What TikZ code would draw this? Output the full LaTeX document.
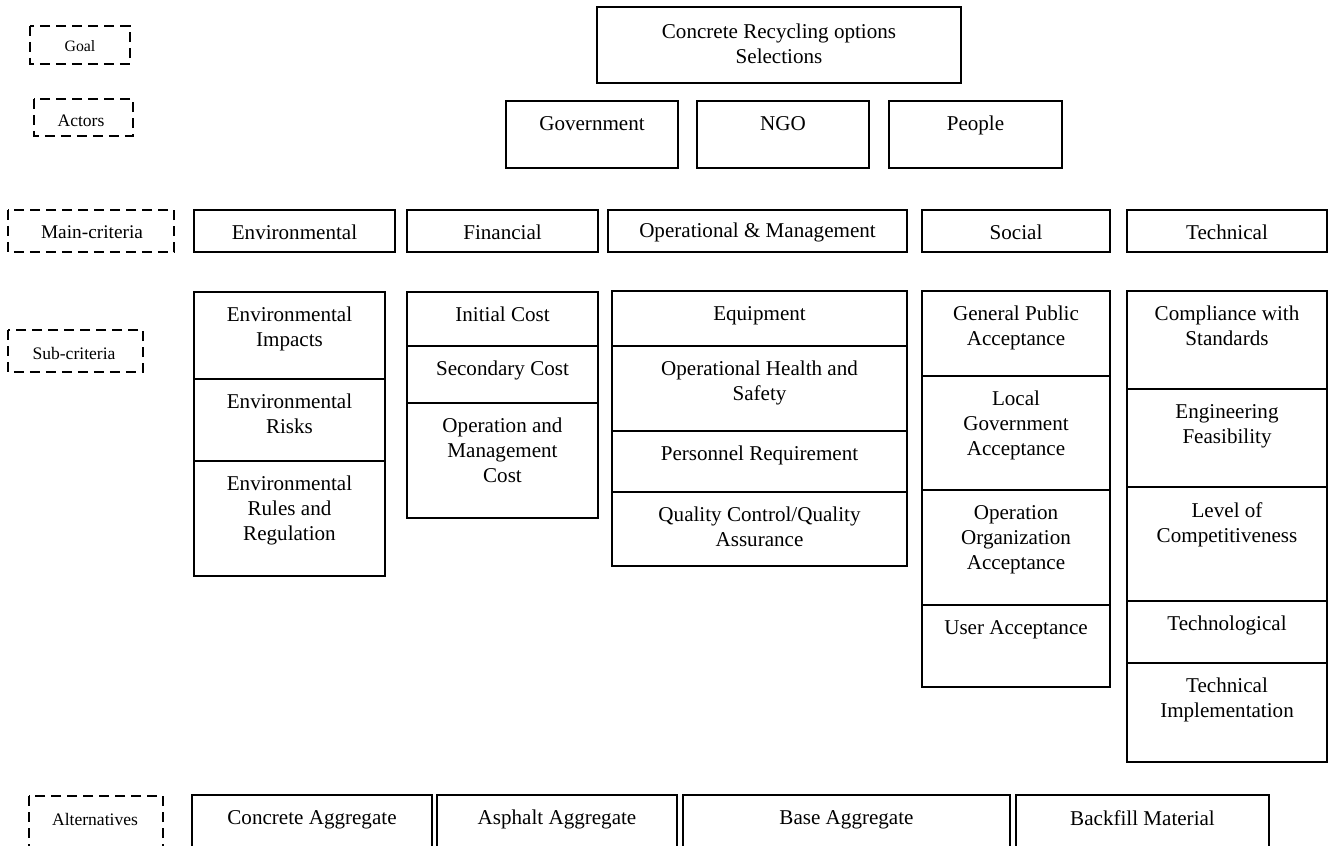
\documentclass[tikz,border=0pt]{standalone}
\usepackage{fontspec}
\setmainfont{Liberation Serif}

\begin{document}
\begin{tikzpicture}[x=0.02cm, y=-0.02cm,
    cell/.style={draw, line width=1pt},
    tag/.style={draw, line width=1.6pt, dash pattern=on 0.2cm off 0.12cm},
    toptext/.style={anchor=north, align=center, inner sep=0pt, yshift=-0.3cm,
      font=\fontsize{12}{14.2}\selectfont},
    midtext/.style={align=center, inner sep=0pt, font=\fontsize{12}{14.2}\selectfont},
    tagtext/.style={inner sep=0pt, font=\fontsize{10}{12}\selectfont}]
  \useasboundingbox (0,0) rectangle (1328,845);

  % Level tags
  \draw[tag] (30,26) rectangle (130,64);
  \node[tagtext, font=\fontsize{9}{11}\selectfont] (t-goal) at (80,46) {Goal};
  \draw[tag] (34,99) rectangle (133,136);
  \node[tagtext] (t-act) at (81,121) {Actors};
  \draw[tag] (8,210) rectangle (174,252);
  \node[tagtext, font=\fontsize{11}{13}\selectfont] (t-main) at (92,232) {Main-criteria};
  \draw[tag] (8,330) rectangle (143,372);
  \node[tagtext] (t-sub) at (74,353) {Sub-criteria};
  \draw[tag] (29,796) rectangle (163,870);
  \node[tagtext] (t-alt) at (95,819) {Alternatives};

  % Goal
  \draw[cell] (597,7) rectangle (961,83);
  \node[midtext] (goal) at (779,44) {Concrete Recycling options\\Selections};

  % Actors
  \foreach \n/\xa/\xb/\t in {gov/506/678/Government, ngo/697/869/NGO, ppl/889/1062/People} {
    \draw[cell] (\xa,101) rectangle (\xb,168);
    \node[toptext] (\n) at ({(\xa+\xb)/2},101) {\t};
  }

  % Main criteria
  \foreach \n/\xa/\xb/\t in {env/194/395/Environmental, fin/407/598/Financial,
      ops/608/907/{Operational \& Management}, soc/922/1110/Social, tec/1127/1327/Technical} {
    \draw[cell] (\xa,210) rectangle (\xb,252);
    \node[midtext] (\n) at ({(\xa+\xb)/2},232) {\t};
  }

  % Sub-criteria
  \foreach \n/\xa/\xb/\ya/\yb/\t in {
      env1/194/385/292/379/{Environmental\\Impacts},
      env2/194/385/379/461/{Environmental\\Risks},
      env3/194/385/461/576/{Environmental\\Rules and\\Regulation},
      fin1/407/598/292/346/{Initial Cost},
      fin2/407/598/346/403/{Secondary Cost},
      fin3/407/598/403/518/{Operation and\\Management\\Cost},
      ops1/612/907/291/346/{Equipment},
      ops2/612/907/346/431/{Operational Health and\\Safety},
      ops3/612/907/431/492/{Personnel Requirement},
      ops4/612/907/492/566/{Quality Control/Quality\\Assurance},
      soc1/922/1110/291/376/{General Public\\Acceptance},
      soc2/922/1110/376/490/{Local\\Government\\Acceptance},
      soc3/922/1110/490/605/{Operation\\Organization\\Acceptance},
      soc4/922/1110/605/687/{User Acceptance},
      tec1/1127/1327/291/389/{Compliance with\\Standards},
      tec2/1127/1327/389/487/{Engineering\\Feasibility},
      tec3/1127/1327/487/601/{Level of\\Competitiveness},
      tec4/1127/1327/601/663/{Technological},
      tec5/1127/1327/663/762/{Technical\\Implementation}} {
    \draw[cell] (\xa,\ya) rectangle (\xb,\yb);
    \node[toptext] (\n) at ({(\xa+\xb)/2},\ya) {\t};
  }

  % Alternatives
  \foreach \n/\xa/\xb/\t in {alt1/192/432/Concrete Aggregate, alt2/437/677/Asphalt Aggregate,
      alt3/683/1010/Base Aggregate, alt4/1016/1269/Backfill Material} {
    \draw[cell] (\xa,795) rectangle (\xb,870);
    \node[toptext] (\n) at ({(\xa+\xb)/2},795) {\t};
  }
\end{tikzpicture}
\end{document}
